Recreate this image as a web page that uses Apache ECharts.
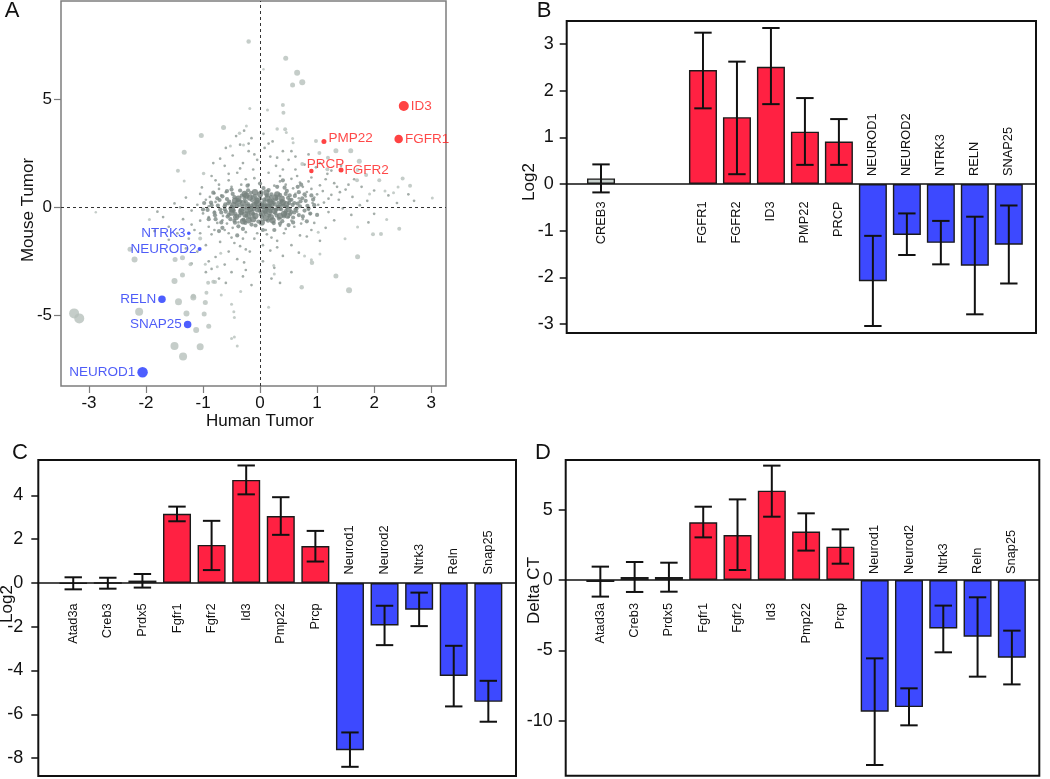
<!DOCTYPE html>
<html><head><meta charset="utf-8">
<script src="https://cdn.jsdelivr.net/npm/echarts@6/dist/echarts.min.js"></script>
<style>html,body{margin:0;padding:0;background:#fff}#c{width:1050px;height:779px}</style>
</head><body><div id="c"></div>
<script>
// ================= DATA =================
// Panel A: labelled genes (x = Human Tumor log2, y = Mouse Tumor log2)
const labeledGenes = ['ID3','FGFR1','PMP22','PRCP','FGFR2','NTRK3','NEUROD2','RELN','SNAP25','NEUROD1'];
const labeledHuman = [2.52, 2.43, 1.12, 0.90, 1.42, -1.25, -1.06, -1.72, -1.27, -2.06];
const labeledMouse = [4.69, 3.16, 3.05, 1.68, 1.73, -1.20, -1.93, -4.26, -5.42, -7.63];
const labeledWeight = [10, 8.5, 5, 4.5, 5, 3.5, 4, 7.5, 7.5, 10.5];
const labeledDir = ['up','up','up','up','up','down','down','down','down','down'];

// Panel A: other genes with larger markers [human, mouse, weight]
const grayGenes = [
[-0.2,7.67,4.5],[-0.18,4.58,3],[-0.64,3.69,5],[-0.24,3.76,3],[-1.03,3.33,5],[-0.36,3.43,3.5],[0.45,6.9,5],[0.65,6.23,6],
[0.74,5.79,6],[0.57,5.66,5],[0.06,6.39,2.5],[0.4,4.74,4],[0.41,4.38,4],[0.13,4.5,3],[0.3,3.62,3.5],[0.44,3.61,4],
[0.46,3.46,3],[0.57,3.19,3],[0.58,2.99,3],[0.98,3.07,4],[1.33,2.62,5],[1.59,2.62,5],[1.04,2.51,4],[1.19,2.3,4],
[1.74,2.13,5],[0.74,2.0,4],[1.86,1.5,4],[2.09,1.25,4],[2.5,1.33,4],[2.63,1.0,4],[2.42,0.94,3],[2.19,0.75,3],
[3.02,0.43,3],[1.7,1.25,4],[1.18,1.76,4],[1.71,1.73,4],[2.34,0.68,3],[1.92,0.62,3],[2.44,-0.99,4],[2.12,-1.24,4],
[1.98,-1.25,4],[2.22,-0.56,3],[1.71,-2.29,5],[1.33,-3.18,5],[1.56,-3.84,6],[0.73,-3.7,4.5],[0.91,-2.56,4.5],[0.9,-2.43,3],
[1.05,-2.16,3],[1.49,-1.45,3],[1.71,-0.91,3],[1.02,-1.15,3],[0.78,-2.25,3],[0.15,-4.63,3],[0.25,-3.09,3],[0.24,-2.69,3],
[-1.33,2.55,5],[-1.44,1.69,4],[-1.33,1.22,3],[-0.99,1.57,3.5],[-2.88,-0.23,2.5],[-1.94,-0.56,3],[-2.28,-1.94,5],[-2.2,-2.41,6],
[-1.49,-2.41,5],[-1.36,-2.33,5],[-1.22,-2.64,4],[-1.5,-3.41,6],[-1.36,-3.13,5],[-1.17,-4.12,5],[-0.94,-3.95,4],[-0.82,-3.44,4],
[-0.75,-2.75,3],[-0.69,-2.13,3],[-1.05,-1.44,4],[-3.26,-4.91,10],[-3.17,-5.14,10],[-2.12,-4.83,8],[-1.5,-6.42,8],[-1.35,-6.91,8],
[-1.05,-6.45,7],[-1.43,-4.37,7],[-1.29,-4.91,6],[-1.17,-4.17,6],[-1.12,-5.68,6],[-0.98,-4.94,5],[-0.96,-4.41,5],[-0.9,-5.5,5],
[-0.91,-3.49,4],[-0.79,-3.46,4],[-0.68,-4.06,3],[-0.5,-4.49,3],[-0.46,-4.83,3],[-0.45,-5.1,3],[-0.5,-6.07,3],[-0.45,-6.0,3],
[-0.4,-6.42,3],[-0.34,-3.9,3],[-0.96,-2.63,3],[-0.52,2.84,3],[-0.29,2.88,3]
];

// Panel A: densest genes at the origin [human, mouse]
const innerGenes = [
[0.02,0.05],[-0.1,0.12],[0.14,0.02],[-0.04,-0.1],[0.09,-0.14],[-0.17,-0.07],[0.2,0.16],[-0.22,0.03],[0.25,-0.16],[-0.06,0.3],
[0.04,-0.28],[-0.3,0.2],[0.33,-0.02],[-0.33,-0.2],[0.13,0.42],[-0.18,0.45],[0.1,-0.5],[-0.12,-0.55],[0.38,0.4],[-0.38,0.4],
[0.42,-0.3],[-0.42,-0.45],[0.46,0.15],[-0.47,0.1],[0.3,0.6],[-0.27,0.62],[0.22,-0.6],[-0.3,-0.65],[0.0,0.6],[0.03,-0.7],
[0.5,-0.1],[-0.5,-0.25],[0.18,0.25],[-0.08,-0.4],[0.27,0.45],[-0.24,0.55],[0.35,-0.4],[-0.15,-0.25],[0.07,0.05],[-0.03,0.2],
[0.16,-0.22],[-0.26,-0.33],[0.4,0.22],[-0.44,0.3],[0.48,-0.38],[-0.49,-0.1],[0.11,0.68],[-0.09,0.7],[0.19,-0.45],[-0.2,-0.6]
];

// Panel A: dense core of genes near the origin [human, mouse]
const coreGenes = [
[-0.05,0.02],[0.12,-0.08],[-0.21,0.15],[0.31,0.05],[-0.34,-0.12],[0.08,0.27],[-0.12,-0.31],[0.22,0.33],[-0.41,0.21],[0.45,-0.18],
[0.03,-0.45],[-0.27,0.41],[0.38,0.29],[-0.52,-0.05],[0.57,0.11],[-0.09,0.52],[0.16,-0.39],[-0.36,-0.38],[0.49,0.44],[-0.18,-0.02],
[0.27,-0.27],[-0.45,0.47],[0.64,-0.06],[-0.61,0.14],[0.02,0.71],[-0.03,-0.66],[0.35,0.58],[-0.29,-0.57],[0.71,0.28],[-0.68,-0.24],
[0.11,0.12],[-0.14,0.33],[0.19,0.48],[-0.23,-0.19],[0.42,-0.42],[-0.48,0.62],[0.53,-0.31],[-0.57,-0.43],[0.09,-0.21],[-0.07,0.41],
[0.26,0.13],[-0.31,0.04],[0.33,-0.52],[-0.39,0.33],[0.61,0.53],[-0.74,0.08],[0.78,-0.15],[-0.16,0.67],[0.14,-0.62],[-0.44,-0.71],
[0.47,0.76],[-0.58,0.38],[0.68,-0.36],[0.04,0.18],[-0.01,-0.15],[0.21,-0.04],[-0.25,0.27],[0.29,0.39],[-0.33,-0.26],[0.37,-0.09],
[-0.46,-0.16],[0.51,0.19],[-0.54,0.26],[0.58,-0.47],[-0.66,0.51],[0.74,0.42],[-0.79,-0.37],[0.83,0.07],[-0.86,0.22],[0.06,0.89],
[-0.08,-0.84],[0.24,-0.73],[-0.21,0.79],[0.43,0.91],[-0.38,-0.88],[0.88,-0.29],[-0.92,-0.12],[0.93,0.36],[0.17,0.06],[-0.11,-0.09],
[0.07,0.36],[-0.19,-0.44],[0.32,0.21],[-0.37,0.11],[0.41,0.08],[-0.43,-0.31],[0.55,-0.22],[-0.62,-0.09],[0.66,0.17],[-0.71,0.34],
[0.12,0.55],[-0.26,-0.72],[0.29,-0.38],[-0.06,0.25],[0.01,-0.33],[0.15,0.3],[-0.32,0.54],[0.39,-0.64],[-0.5,0.02],[0.47,0.02],
[0.05,0.09],[-0.15,0.08],[0.18,-0.18],[-0.28,-0.08],[0.36,0.14],[-0.08,0.16],[0.24,0.22],[-0.2,-0.26],[0.1,-0.29],[-0.4,0.06],
[0.52,0.33],[-0.13,0.47],[0.28,-0.11],[-0.35,0.26],[0.44,-0.28],[0.0,0.4],[-0.24,-0.4],[0.2,0.6],[-0.56,0.18],[0.6,-0.24],
[0.55,0.35],[0.62,-0.12],[0.7,0.05],[0.75,-0.42],[0.8,0.3],[0.68,0.7],[0.85,-0.05],[0.9,0.55],[0.58,-0.7],[0.66,0.95],
[-0.55,-0.35],[-0.62,0.05],[-0.7,-0.1],[-0.75,0.42],[-0.8,-0.25],[-0.68,-0.7],[-0.85,0.1],[-0.9,-0.55],[-0.58,0.75],[-0.66,-0.95],
[0.45,0.62],[0.5,-0.82],[-0.45,-0.62],[-0.5,0.82],[0.3,0.95],[-0.3,-1.0],[0.25,-1.05],[-0.22,1.0],[0.0,1.1],[0.05,-1.05],
[0.95,0.1],[1.0,-0.35],[-0.98,0.2],[-1.0,-0.1],[0.82,-0.65],[-0.82,0.68],[0.4,1.25],[-0.4,-1.3],[0.72,1.05],[-0.72,-1.1],
[0.15,0.8],[-0.15,-0.8],[0.35,-0.75],[-0.35,0.78],[0.6,0.2],[-0.6,-0.2],[0.52,0.55],[-0.52,-0.55],[0.78,0.6],[-0.78,-0.55]
];

// Panel A: scattered genes around the core [human, mouse]
const haloGenes = [
[0.95,0.45],[1.12,0.22],[0.82,0.71],[1.25,0.58],[1.05,1.02],[0.7,1.15],[1.38,0.35],[1.5,0.82],[0.9,1.38],[1.18,1.55],
[0.55,1.32],[0.62,1.75],[1.3,1.12],[1.62,0.48],[1.78,0.95],[1.02,0.12],[0.85,-0.12],[1.2,-0.22],[1.45,-0.05],[0.45,1.05],
[0.35,1.45],[0.28,1.92],[0.18,2.35],[0.5,2.2],[0.78,1.98],[0.4,2.6],[0.15,2.95],[0.06,3.4],[0.22,3.05],[0.98,1.85],
[1.42,1.92],[1.65,1.3],[2.0,0.78],[1.88,0.3],[2.25,0.55],[0.68,0.42],[0.75,0.95],[0.58,0.88],[1.1,0.75],[0.92,0.2],
[-0.95,0.35],[-0.8,0.65],[-1.1,0.12],[-0.72,1.05],[-0.55,1.25],[-0.4,1.6],[-0.62,1.92],[-0.3,2.05],[-0.48,2.4],[-0.2,2.6],
[-0.35,2.9],[-0.15,3.2],[-0.6,2.75],[-0.85,1.45],[-1.02,0.92],[-1.3,0.45],[-1.5,0.18],[-0.25,1.3],[-0.12,1.75],[-0.05,2.2],
[-0.9,0.05],[-1.2,-0.15],[-0.78,0.25],[-0.68,0.55],[-0.5,0.95],[-0.33,1.05],[-0.42,3.3],[-0.28,3.55],[-0.7,2.25],[-0.82,2.05],
[-0.9,-0.45],[-0.75,-0.72],[-1.05,-0.62],[-0.62,-1.05],[-0.85,-1.25],[-1.15,-1.05],[-0.5,-1.4],[-0.7,-1.6],[-0.95,-1.75],[-0.35,-1.8],
[-0.55,-2.05],[-0.78,-2.3],[-0.4,-2.4],[-0.62,-2.65],[-0.28,-2.55],[-0.18,-2.05],[-0.1,-1.45],[-0.25,-1.15],[-1.35,-0.55],[-1.6,-0.9],
[-1.25,-1.45],[-0.48,-0.95],[-0.38,-0.7],[-0.65,-0.4],[-1.1,-2.05],[-0.9,-2.5],[-0.5,-3.0],[-0.3,-3.2],[-0.72,-3.3],[-0.15,-3.6],
[-0.42,-0.45],[-0.8,-0.2],[-1.0,-0.28],[0.75,-0.55],[0.95,-0.72],[0.6,-0.9],[1.15,-0.95],[0.42,-1.2],[0.82,-1.35],[0.3,-1.55],
[0.55,-1.75],[0.18,-2.0],[0.4,-2.25],[0.05,-2.5],[0.25,-2.8],[1.3,-0.6],[1.05,-1.55],[0.68,-2.1],[0.12,-1.25],[0.5,-0.45],
[0.35,-0.85],[1.6,-0.35],[0.2,-3.3],[0.88,-0.3],[0.65,-0.2],
[0.62,0.62],[0.8,0.5],[0.72,-0.75],[0.55,-0.62],[-0.6,0.7],[-0.72,0.85],[-0.58,-0.75],[-0.66,-0.6],[0.35,1.2],[0.25,1.0],
[-0.2,1.05],[-0.1,1.35],[0.15,1.6],[0.4,1.75],[-0.35,1.8],[0.1,-1.05],[-0.05,-1.2],[0.2,-1.4],[-0.3,-1.45],[0.45,-1.0],
[0.9,0.85],[1.0,0.6],[1.2,0.4],[1.35,0.95],[1.15,1.3],[0.85,1.2],[0.65,1.45],[-0.9,-0.9],[-1.05,-1.2],[-0.8,-1.05],
[-1.2,-0.8],[-0.45,-1.65],[-0.55,-1.2],[-0.25,-1.95],[0.05,-1.75],[-0.88,0.48],[-1.05,0.62],[-0.55,1.55],[-0.78,1.25],[0.3,-1.85],
[0.7,-1.3],[0.9,-1.05],[1.4,0.7],[1.55,1.05],[1.25,1.7],[0.55,2.6],[0.3,2.3],[-0.1,2.45],[-0.2,2.95],[0.08,2.75],
[0.85,2.45],[0.62,2.35],[1.05,2.05],[-1.45,-1.2],[-1.7,-0.45],[-1.4,0.0],[-1.8,-0.2],[1.75,0.1],[2.0,-0.3],[1.9,-0.7],
[2.4,0.2],[2.6,0.6],[2.7,0.3],[-0.95,-3.0],[-0.6,-3.5],[-0.25,-2.9],[0.0,-3.0],[0.35,-3.5],[0.55,-3.0],[-1.3,-1.9],
[-1.6,-1.5],[-1.85,-1.1],[-1.2,-2.6],[-0.85,-2.85]
];
const scatterXTicks = [-3,-2,-1,0,1,2,3];
const scatterYTicks = [-5,0,5];

// Panel B: human qPCR (Log2)
const genesB = ['CREB3','','','FGFR1','FGFR2','ID3','PMP22','PRCP','NEUROD1','NEUROD2','NTRK3','RELN','SNAP25'];
const groupB = ['ctrl','','','up','up','up','up','up','down','down','down','down','down'];
const valueB = [0.12,null,null,2.44,1.43,2.51,1.12,0.91,-2.08,-1.09,-1.26,-1.75,-1.30];
const lowB   = [-0.18,null,null,1.62,0.21,1.71,0.41,0.41,-3.04,-1.52,-1.72,-2.79,-2.13];
const highB  = [0.42,null,null,3.24,2.62,3.34,1.84,1.39,-1.11,-0.63,-0.79,-0.70,-0.46];
const ticksB = [-3,-2,-1,0,1,2,3];

// Panel C: mouse (Log2)
const genesC = ['Atad3a','Creb3','Prdx5','Fgfr1','Fgfr2','Id3','Pmp22','Prcp','Neurod1','Neurod2','Ntrk3','Reln','Snap25'];
const groupC = ['ctrl','ctrl','ctrl','up','up','up','up','up','down','down','down','down','down'];
const valueC = [-0.02,0.0,0.11,3.16,1.74,4.71,3.06,1.69,-7.64,-1.94,-1.22,-4.25,-5.43];
const lowC   = [-0.29,-0.26,-0.21,2.82,0.59,4.05,2.20,0.98,-8.40,-2.84,-1.97,-5.64,-6.34];
const highC  = [0.26,0.24,0.41,3.49,2.84,5.37,3.92,2.38,-6.83,-1.04,-0.44,-2.87,-4.47];
const ticksC = [-8,-6,-4,-2,0,2,4];

// Panel D: mouse (Delta CT)
const genesD = genesC;
const groupD = groupC;
const valueD = [-0.14,0.21,0.21,4.10,3.20,6.35,3.44,2.37,-9.36,-9.03,-3.44,-4.03,-5.52];
const lowD   = [-1.18,-0.85,-0.83,3.03,0.71,4.50,2.09,1.16,-13.15,-10.33,-5.14,-6.87,-7.42];
const highD  = [0.95,1.28,1.23,5.21,5.73,8.13,4.74,3.60,-5.57,-7.70,-1.82,-1.23,-3.60];
const ticksD = [-10,-5,0,5];

// ================= STYLE / LAYOUT =================
const FONT = '"Liberation Sans", Arial, Helvetica, sans-serif';
const RED = '#ff2142', BLUE = '#3d49ff', GRAYBAR = '#c7d0cc';
const barColor = g => g === 'up' ? RED : g === 'down' ? BLUE : GRAYBAR;

const grids = [
  {left: 61, top: 1, width: 385, height: 385, show: true, borderColor: '#7d7d7d', borderWidth: 1.5},
  {left: 566.7, top: 21, width: 469.3, height: 312, show: true, borderColor: '#111', borderWidth: 2},
  {left: 38.3, top: 460, width: 477.7, height: 316, show: true, borderColor: '#111', borderWidth: 2},
  {left: 565.7, top: 460, width: 473.6, height: 315.7, show: true, borderColor: '#111', borderWidth: 2}
];

function valueYAxis(gi, min, max, ticks, margin, fs) {
  return {type: 'value', gridIndex: gi, min, max, position: 'left',
    axisLine: {show: false, onZero: false}, splitLine: {show: false},
    axisTick: {show: true, length: 7, customValues: ticks, lineStyle: {color: '#111', width: 1.5}},
    axisLabel: {show: true, customValues: ticks, margin, color: '#111', fontSize: fs, fontFamily: FONT}};
}
function barXAxis(gi) {
  return {type: 'value', gridIndex: gi, min: -1.01, max: 12.8,
    axisLine: {show: true, onZero: true, lineStyle: {color: '#111', width: 1.5}},
    axisTick: {show: false}, axisLabel: {show: false}, splitLine: {show: false}};
}

function barSeries(ai, genes, group, value) {
  const data = [];
  value.forEach((v, i) => { if (v !== null) data.push({value: [i, v], itemStyle: {color: barColor(group[i])}}); });
  return {type: 'bar', xAxisIndex: ai, yAxisIndex: ai, barWidth: 28, data,
    itemStyle: {borderColor: '#1a1a1a', borderWidth: 1.4}, silent: true, z: 2};
}
function errSeries(ai, low, high) {
  const data = [];
  low.forEach((l, i) => { if (l !== null) data.push([i, l, high[i]]); });
  return {type: 'custom', xAxisIndex: ai, yAxisIndex: ai, data, silent: true, z: 4,
    encode: {x: 0, y: [1, 2]},
    renderItem: (params, api) => {
      const x = api.value(0);
      const p1 = api.coord([x, api.value(1)]), p2 = api.coord([x, api.value(2)]);
      const hw = 8.7, st = {stroke: '#111', lineWidth: 2};
      return {type: 'group', children: [
        {type: 'line', shape: {x1: p1[0], y1: p1[1], x2: p2[0], y2: p2[1]}, style: st},
        {type: 'line', shape: {x1: p1[0]-hw, y1: p1[1], x2: p1[0]+hw, y2: p1[1]}, style: st},
        {type: 'line', shape: {x1: p2[0]-hw, y1: p2[1], x2: p2[0]+hw, y2: p2[1]}, style: st}
      ]};
    }};
}
function nameSeries(ai, genes, group, below, above) {
  const data = [], names = [], grp = [];
  genes.forEach((g, i) => { if (g) { data.push([i, 0]); names.push(g); grp.push(group[i]); } });
  return {type: 'custom', xAxisIndex: ai, yAxisIndex: ai, data, silent: true, z: 5,
    encode: {x: 0, y: 1},
    renderItem: (params, api) => {
      const p = api.coord([api.value(0), 0]);
      const k = params.dataIndex, isDown = grp[k] === 'down';
      return {type: 'text', x: p[0], y: isDown ? p[1] - above : p[1] + below, rotation: Math.PI / 2,
        style: {text: names[k], align: isDown ? 'left' : 'right', verticalAlign: 'middle',
          fontSize: 12.8, fontFamily: FONT, fill: '#111'}};
    }};
}

// Panel A labels placement (style only)
const labelPlace = {
  ID3: {position: 'right', distance: 2}, FGFR1: {position: 'right', distance: 2},
  PMP22: {position: 'right', distance: 2, offset: [0, -3]}, FGFR2: {position: 'right', distance: 1},
  PRCP: {position: 'right', distance: 0, offset: [-7, -7]},
  NTRK3: {position: 'left', distance: 1.5}, NEUROD2: {position: 'left', distance: 1},
  RELN: {position: 'left', distance: 2}, SNAP25: {position: 'left', distance: 2}, NEUROD1: {position: 'left', distance: 2}
};
const labeledData = labeledGenes.map((g, i) => {
  const c = labeledDir[i] === 'up' ? '#ff1414' : '#2136ff';
  return {value: [labeledHuman[i], labeledMouse[i], labeledWeight[i]], name: g,
    itemStyle: {color: c},
    label: Object.assign({show: true, formatter: g, color: labeledDir[i] === 'up' ? '#ff1a1a' : '#2233f5',
      fontSize: 13.5, fontFamily: FONT}, labelPlace[g])};
});

const option = {
  animation: false,
  backgroundColor: '#fff',
  grid: grids,
  xAxis: [
    {type: 'value', gridIndex: 0, min: -3.49, max: 3.26, position: 'bottom', splitLine: {show: false},
      axisLine: {show: false, onZero: false},
      axisTick: {show: true, length: 7, customValues: scatterXTicks, lineStyle: {color: '#7d7d7d', width: 1.2}},
      axisLabel: {customValues: scatterXTicks, margin: 9, color: '#111', fontSize: 17, fontFamily: FONT}},
    barXAxis(1), barXAxis(2), barXAxis(3)
  ],
  yAxis: [
    {type: 'value', gridIndex: 0, min: -8.27, max: 9.55, position: 'left', splitLine: {show: false},
      axisLine: {show: false, onZero: false},
      axisTick: {show: true, length: 7, customValues: scatterYTicks, lineStyle: {color: '#7d7d7d', width: 1.2}},
      axisLabel: {customValues: scatterYTicks, margin: 9, color: '#111', fontSize: 17, fontFamily: FONT}},
    valueYAxis(1, -3.19, 3.49, ticksB, 13, 18),
    valueYAxis(2, -8.82, 5.62, ticksC, 15, 18),
    valueYAxis(3, -13.91, 8.53, ticksD, 13, 18)
  ],
  series: [
    {type: 'scatter', xAxisIndex: 0, yAxisIndex: 0, data: haloGenes, symbolSize: 2.7, silent: true,
      itemStyle: {color: '#8d9894'}, z: 2,
      markLine: {silent: true, symbol: ['none', 'none'], label: {show: false}, animation: false,
        lineStyle: {type: [3, 3], color: '#333', width: 1},
        data: [{xAxis: 0}, {yAxis: 0}]}},
    {type: 'scatter', xAxisIndex: 0, yAxisIndex: 0, data: coreGenes, symbolSize: 4.2, silent: true,
      itemStyle: {color: '#7c8884'}, z: 2},
    {type: 'scatter', xAxisIndex: 0, yAxisIndex: 0, data: innerGenes, symbolSize: 6.2, silent: true,
      itemStyle: {color: '#74807c'}, z: 2},
    {type: 'scatter', xAxisIndex: 0, yAxisIndex: 0, data: grayGenes, symbolSize: d => d[2], silent: true,
      itemStyle: {color: '#b6c0bc'}, z: 2},
    {type: 'scatter', xAxisIndex: 0, yAxisIndex: 0, data: labeledData, symbolSize: d => d[2], silent: true, z: 3},
    barSeries(1, genesB, groupB, valueB), errSeries(1, lowB, highB), nameSeries(1, genesB, groupB, 17.5, 8),
    barSeries(2, genesC, groupC, valueC), errSeries(2, lowC, highC), nameSeries(2, genesC, groupC, 20.3, 8.5),
    barSeries(3, genesD, groupD, valueD), errSeries(3, lowD, highD), nameSeries(3, genesD, groupD, 23, 6)
  ],
  graphic: [
    {type: 'text', x: 12, y: 10.5, style: {text: 'A', fontSize: 22, fontFamily: FONT, fill: '#111', align: 'center', verticalAlign: 'middle'}},
    {type: 'text', x: 544, y: 10.5, style: {text: 'B', fontSize: 22, fontFamily: FONT, fill: '#111', align: 'center', verticalAlign: 'middle'}},
    {type: 'text', x: 20, y: 452.5, style: {text: 'C', fontSize: 22, fontFamily: FONT, fill: '#111', align: 'center', verticalAlign: 'middle'}},
    {type: 'text', x: 543, y: 452.5, style: {text: 'D', fontSize: 22, fontFamily: FONT, fill: '#111', align: 'center', verticalAlign: 'middle'}},
    {type: 'text', x: 260, y: 421.5, style: {text: 'Human Tumor', fontSize: 17, fontFamily: FONT, fill: '#111', align: 'center', verticalAlign: 'middle'}},
    {type: 'text', x: 28.3, y: 210, rotation: Math.PI / 2, style: {text: 'Mouse Tumor', fontSize: 17, fontFamily: FONT, fill: '#111', align: 'center', verticalAlign: 'middle'}},
    {type: 'text', x: 529, y: 182, rotation: Math.PI / 2, style: {text: 'Log2', fontSize: 17, fontFamily: FONT, fill: '#111', align: 'center', verticalAlign: 'middle'}},
    {type: 'text', x: 7.5, y: 604, rotation: Math.PI / 2, style: {text: 'Log2', fontSize: 17, fontFamily: FONT, fill: '#111', align: 'center', verticalAlign: 'middle'}},
    {type: 'text', x: 534.5, y: 590.5, rotation: Math.PI / 2, style: {text: 'Delta CT', fontSize: 17, fontFamily: FONT, fill: '#111', align: 'center', verticalAlign: 'middle'}}
  ]
};
const chart = echarts.init(document.getElementById('c'), null, {renderer: 'canvas'});
chart.setOption(option);
</script>
</body></html>
